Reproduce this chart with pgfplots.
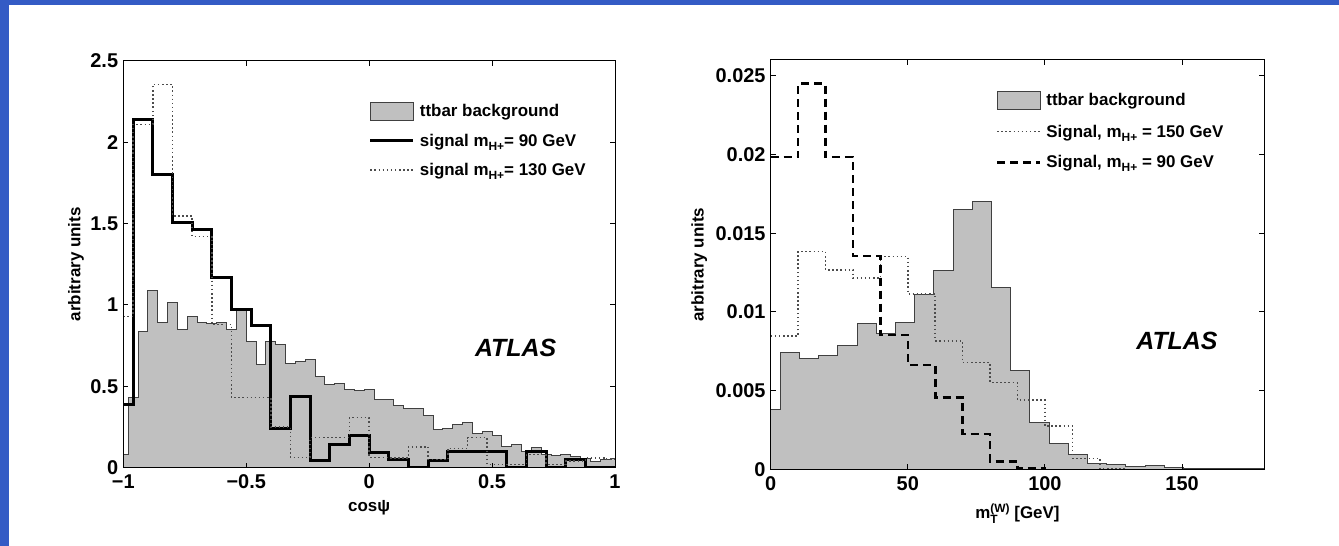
\documentclass[border=0pt]{standalone}
\usepackage{pgfplots}
\pgfplotsset{compat=1.18}
\usepackage{fontspec}
\setmainfont{Liberation Sans}
\definecolor{slideblue}{RGB}{52,91,197}
\definecolor{histgray}{RGB}{192,192,192}
\newcommand{\sub}[1]{\raisebox{-0.45ex}{\fontsize{12}{12}\selectfont #1}}
\newcommand{\subsup}[2]{\rlap{\raisebox{-0.5ex}{\fontsize{12}{12}\selectfont #1}}\raisebox{0.75ex}{\fontsize{12}{12}\selectfont #2}}

\pgfplotstableread{
x y
-1.00 0.08
-0.98 0.43
-0.94 0.839
-0.90 1.09
-0.86 0.892
-0.82 1.012
-0.78 0.849
-0.74 0.926
-0.70 0.892
-0.66 0.886
-0.62 0.89
-0.58 0.849
-0.54 0.968
-0.50 0.777
-0.46 0.634
-0.42 0.773
-0.38 0.758
-0.34 0.64
-0.30 0.654
-0.26 0.664
-0.22 0.562
-0.18 0.513
-0.14 0.517
-0.10 0.482
-0.06 0.476
-0.02 0.482
0.02 0.42
0.06 0.42
0.10 0.385
0.14 0.364
0.18 0.364
0.22 0.323
0.26 0.237
0.30 0.24
0.34 0.265
0.38 0.276
0.42 0.21
0.46 0.22
0.50 0.20
0.54 0.133
0.58 0.14
0.62 0.098
0.66 0.123
0.70 0.084
0.74 0.074
0.78 0.08
0.82 0.068
0.86 0.058
0.90 0.037
0.94 0.05
0.98 0.058
1.00 0.058
}\bgleft

\pgfplotstableread{
x y
-1.00 0.389
-0.96 2.139
-0.88 1.80
-0.80 1.507
-0.72 1.462
-0.64 1.17
-0.56 0.974
-0.48 0.875
-0.40 0.241
-0.32 0.436
-0.24 0.047
-0.16 0.145
-0.08 0.195
0.00 0.095
0.08 0.05
0.16 0.0
0.24 0.047
0.32 0.098
0.40 0.098
0.48 0.098
0.56 0.0
0.64 0.098
0.72 0.0
0.80 0.05
0.88 0.0
1.00 0.0
}\signinety

\pgfplotstableread{
x y
-1.00 0.93
-0.96 2.109
-0.88 2.354
-0.80 1.546
-0.72 1.42
-0.64 0.88
-0.56 0.43
-0.48 0.43
-0.40 0.25
-0.32 0.064
-0.24 0.185
-0.16 0.185
-0.08 0.307
0.00 0.064
0.08 0.06
0.16 0.128
0.24 0.05
0.32 0.118
0.40 0.185
0.48 0.02
0.56 0.02
0.64 0.08
0.72 0.02
0.80 0.04
0.88 0.06
0.96 0.053
1.00 0.053
}\sigonethirty

\pgfplotstableread{
x y
0 0.00383
3.5 0.00743
10.5 0.00705
17.5 0.0072
24.5 0.00786
31.5 0.00927
38.5 0.00862
45.5 0.00932
52.5 0.01112
59.5 0.01262
66.5 0.01648
73.5 0.01698
80.5 0.01155
87.5 0.00626
94.5 0.00297
101.5 0.00167
108.5 0.00096
115.5 0.0004
122.5 0.00029
129.5 0.00018
136.5 0.00022
143.5 0.0001
150.5 0.00007
157.5 0.00002
164.5 0.00007
171.5 0.00002
180 0.00002
}\bgright

\pgfplotstableread{
x y
0 0.00848
10 0.01383
20 0.01267
30 0.01214
40 0.01351
50 0.01114
60 0.00816
70 0.00678
80 0.00551
90 0.00441
100 0.00276
110 0.0007
120 0.00005
130 0
}\sigonefifty

\pgfplotstableread{
x y
0 0.01983
10 0.02449
20 0.01983
30 0.01356
40 0.00854
50 0.00663
60 0.00456
70 0.00223
80 0.00049
90 0.00007
100 0
}\signinetyR

\pgfplotsset{
  atlasaxis/.style={
    anchor=south west, scale only axis,
    tick align=inside, major tick length=5bp,
    axis line style={line width=1bp, black},
    tick style={line width=0.9bp, black},
    ticklabel style={font=\fontsize{20}{20}\selectfont\bfseries},
    yticklabel style={inner sep=0bp, xshift=-5bp},
    xticklabel style={inner sep=0bp, yshift=-7bp},
    label style={font=\fontsize{17}{17}\selectfont\bfseries},
    scaled ticks=false,
    legend cell align=left,
    axis on top,
  },
  bgstyle/.style={fill=histgray, draw=black!75, line width=1bp, const plot mark left},
  dotstyle/.style={black!70, line width=1.5bp, dash pattern=on 1.5bp off 2.6bp, const plot mark left},
  arealeg/.style={legend image code/.code={\draw[##1] (0bp,-9bp) rectangle (43bp,9bp);}},
  lineleg/.style={legend image code/.code={\draw[##1] (0bp,0bp) -- (43bp,0bp);}},
}

\begin{document}
\begin{tikzpicture}
\path[use as bounding box] (0bp,0bp) rectangle (1339bp,546bp);
\fill[white] (0bp,0bp) rectangle (1339bp,546bp);
\fill[slideblue] (0bp,0bp) rectangle (9bp,546bp);
\fill[slideblue] (0bp,541bp) rectangle (1339bp,546bp);

\begin{axis}[atlasaxis,
  at={(123.3bp,78.3bp)}, width=491.7bp, height=407bp,
  xmin=-1, xmax=1, ymin=0, ymax=2.5,
  xtick={-1,-0.5,0,0.5,1}, xticklabels={−1,−0.5,0,0.5,1},
  ytick={0,0.5,1,1.5,2,2.5}, yticklabels={0,0.5,1,1.5,2,2.5},
  xlabel={cosψ}, ylabel={arbitrary units},
  xlabel style={at={(axis description cs:0.5,-0.108)}, anchor=base},
  ylabel style={at={(axis description cs:-0.0964,0.5)}, anchor=center},
  legend style={draw=none, fill=none, at={(0.493,0.905)}, anchor=north west,
    font=\fontsize{17}{17}\selectfont\bfseries, row sep=11.5bp,
    /tikz/every odd column/.append style={column sep=3bp}},
]
\addplot[bgstyle, arealeg] table {\bgleft} \closedcycle;
\addlegendentry{ttbar background}
\addplot[black, line width=3bp, const plot mark left, lineleg] table {\signinety};
\addlegendentry{signal m\sub{H+}= 90 GeV}
\addplot[dotstyle, lineleg] table {\sigonethirty};
\addlegendentry{signal m\sub{H+}= 130 GeV}
\node[font=\fontsize{25}{25}\selectfont\bfseries\itshape] at (rel axis cs:0.798,0.2936) {ATLAS};
\end{axis}

\begin{axis}[atlasaxis,
  at={(770.7bp,76.7bp)}, width=493.6bp, height=409.3bp,
  xmin=0, xmax=180, ymin=0, ymax=0.026,
  xtick={0,50,100,150}, xticklabels={0,50,100,150},
  ytick={0,0.005,0.01,0.015,0.02,0.025}, yticklabels={0,0.005,0.01,0.015,0.02,0.025},
  xlabel={m\subsup{T}{(W)} [GeV]}, ylabel={arbitrary units},
  xlabel style={at={(axis description cs:0.5,-0.121)}, anchor=base},
  ylabel style={at={(axis description cs:-0.145,0.5)}, anchor=center},
  legend style={draw=none, fill=none, at={(0.4496,0.93)}, anchor=north west,
    font=\fontsize{17}{17}\selectfont\bfseries, row sep=13bp,
    /tikz/every odd column/.append style={column sep=3bp}},
]
\addplot[bgstyle, arealeg] table {\bgright} \closedcycle;
\addlegendentry{ttbar background}
\addplot[dotstyle, lineleg] table {\sigonefifty};
\addlegendentry{Signal, m\sub{H+} = 150 GeV}
\addplot[black, line width=2.6bp, dash pattern=on 8bp off 5bp, const plot mark left, lineleg] table {\signinetyR};
\addlegendentry{Signal, m\sub{H+} = 90 GeV}
\node[font=\fontsize{25}{25}\selectfont\bfseries\itshape] at (rel axis cs:0.823,0.3127) {ATLAS};
\end{axis}
\end{tikzpicture}
\end{document}
